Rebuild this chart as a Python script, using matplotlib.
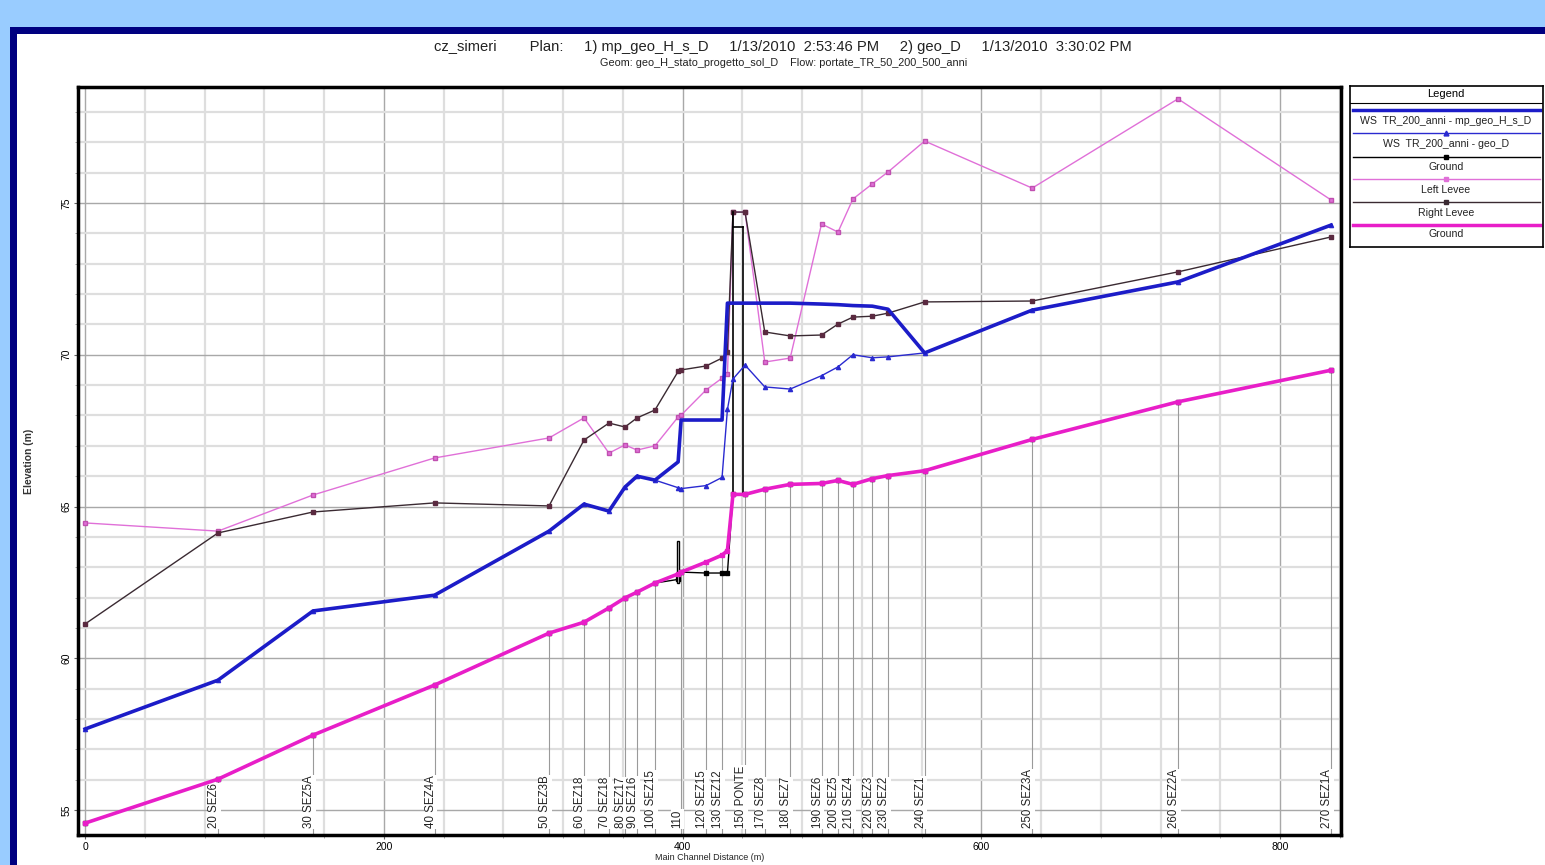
import matplotlib
matplotlib.use("Agg")
import matplotlib.pyplot as plt
from matplotlib.patches import Rectangle

plt.rcParams['font.family'] = ['Liberation Sans', 'DejaVu Sans']

# ---------------- data ----------------
stations = [0, 89, 152.6, 234, 310.6, 334, 350.7, 361.4, 369.5, 381.5, 397.0, 399.0,
            415.7, 426.4, 430.0, 433.7, 441.8, 455, 472, 493, 504, 514, 527, 537.5,
            562, 634, 731.6, 834]
station_labels = ["", "20 SEZ6", "30 SEZ5A", "40 SEZ4A", "50 SEZ3B", "60 SEZ18", "70 SEZ18",
                  "80 SEZ17", "90 SEZ16", "100 SEZ15", "", "110", "120 SEZ15", "130 SEZ12",
                  "", "", "150 PONTE", "170 SEZ8", "180 SEZ7", "190 SEZ6", "200 SEZ5",
                  "210 SEZ4", "220 SEZ3", "230 SEZ2", "240 SEZ1", "250 SEZ3A", "260 SEZ2A",
                  "270 SEZ1A"]
ground_main = [54.57, 56.02, 57.47, 59.12, 60.83, 61.19, 61.66, 61.99, 62.18, 62.48, 62.78, 62.84,
               63.17, 63.40, 63.55, 65.40, 65.40, 65.57, 65.73, 65.76, 65.86, 65.73, 65.92, 66.02,
               66.18, 67.21, 68.45, 69.49]
ground_alt = [54.57, 56.02, 57.47, 59.12, 60.83, 61.19, 61.66, 61.99, 62.18, 62.48, 62.60, 62.84,
              62.81, 62.81, 62.81, 65.40, 65.40, 65.57, 65.73, 65.76, 65.86, 65.73, 65.92, 66.02,
              66.18, 67.21, 68.45, 69.49]
ws_plan1 = [57.67, 59.28, 61.56, 62.08, 64.19, 65.08, 64.85, 65.64, 66.00, 65.87, 66.47, 67.85,
            67.85, 67.85, 71.70, 71.70, 71.70, 71.70, 71.70, 71.67, 71.65, 71.62, 71.60, 71.50,
            70.06, 71.47, 72.40, 74.27]
ws_plan2 = [57.67, 59.28, 61.56, 62.08, 64.19, 65.08, 64.85, 65.64, 66.00, 65.87, 65.62, 65.59,
            65.69, 65.96, 68.20, 69.20, 69.66, 68.94, 68.87, 69.31, 69.60, 70.00, 69.90, 69.93,
            70.06, 71.47, 72.40, 74.27]
left_levee = [64.46, 64.19, 65.38, 66.60, 67.26, 67.92, 66.76, 67.03, 66.86, 67.00, 67.95, 68.01,
              68.84, 69.23, 69.35, 74.70, 74.70, 69.76, 69.89, 74.31, 74.04, 75.13, 75.63, 76.02,
              77.04, 75.49, 78.43, 75.10]
right_levee = [61.13, 64.13, 64.82, 65.12, 65.02, 67.19, 67.75, 67.62, 67.92, 68.18, 69.45, 69.50,
               69.63, 69.89, 70.10, 74.70, 74.70, 70.75, 70.62, 70.65, 71.01, 71.24, 71.27, 71.37,
               71.74, 71.77, 72.73, 73.88]
# bridge (PONTE) outline and inline structure
bridge_x = [433.7, 440.5]
bridge_top = 74.70
bridge_low = 74.20
bridge_base = 65.40
weir_x = 397.0
weir_low, weir_high = 62.48, 63.86

x_ticks = [0, 200, 400, 600, 800]
y_ticks = [55, 60, 65, 70, 75]

title1 = "cz_simeri        Plan:     1) mp_geo_H_s_D     1/13/2010  2:53:46 PM     2) geo_D     1/13/2010  3:30:02 PM"
title2 = "Geom: geo_H_stato_progetto_sol_D    Flow: portate_TR_50_200_500_anni"
legend_labels = ["WS  TR_200_anni - mp_geo_H_s_D", "WS  TR_200_anni - geo_D", "Ground",
                 "Left Levee", "Right Levee", "Ground"]

# ---------------- colours ----------------
C_WS1 = '#1c1cc8'
C_WS2 = '#2a2ad0'
C_GRD2 = '#000000'
C_LL = '#e070d8'
C_RL = '#3a2a32'
C_GRD = '#e81ec8'

W, H = 1545, 865
fig = plt.figure(figsize=(W / 100, H / 100), dpi=100)
fig.patch.set_facecolor('#99ccff')
fig.patches.append(Rectangle((10 / W, 0), 1, (H - 27) / H, transform=fig.transFigure,
                             facecolor='#000080', edgecolor='none', zorder=-2))
fig.patches.append(Rectangle((17 / W, 0), 1, (H - 34) / H, transform=fig.transFigure,
                             facecolor='white', edgecolor='none', zorder=-1))

ax = fig.add_axes([78 / W, (H - 835) / H, (1341 - 78) / W, (835 - 87) / H])
ax.set_xlim(-4.7, 840.7)
ax.set_ylim(54.18, 78.82)

# grid
for gx in range(0, 841, 40):
    major = gx % 200 == 0
    ax.axvline(gx, color='#a8a8a8' if major else '#dedede', lw=1.0 if major else 1.6, zorder=0)
for gy in range(55, 79):
    major = gy % 5 == 0
    ax.axhline(gy, color='#a8a8a8' if major else '#dedede', lw=1.0 if major else 1.6, zorder=0)

# station lines and labels
for s, g, lab in zip(stations, ground_main, station_labels):
    if lab:
        ax.plot([s, s], [54.18, g], color='#9a9a9a', lw=0.8, zorder=1)
        ax.text(s + 1.5, 54.40, lab, rotation=90, ha='right', va='bottom', fontsize=8.3,
                color='#222222', zorder=2,
                bbox=dict(facecolor='white', edgecolor='none', pad=0.3))

# structures
ax.plot([bridge_x[0], bridge_x[0]], [bridge_base, bridge_top], color='black', lw=1.2, zorder=4)
ax.plot([bridge_x[1], bridge_x[1]], [bridge_base, bridge_low], color='black', lw=1.2, zorder=4)
ax.plot([bridge_x[0], bridge_x[1]], [bridge_low, bridge_low], color='black', lw=1.2, zorder=4)
ax.add_patch(Rectangle((weir_x - 0.9, weir_low), 1.8, weir_high - weir_low, facecolor='white',
                       edgecolor='black', lw=1.0, zorder=4))

# series
ax.plot(stations, ground_alt, color=C_GRD2, lw=1.0, marker='s', ms=3, zorder=3)
ax.plot(stations, left_levee, color=C_LL, lw=1.0, marker='s', ms=3, mfc=C_LL, mec='#c050b0', zorder=3)
ax.plot(stations, right_levee, color=C_RL, lw=1.0, marker='s', ms=3, mfc='#5a2a40', mec='#5a2a40', zorder=3)
ax.plot(stations, ws_plan2, color=C_WS2, lw=1.0, marker='^', ms=3, zorder=5)
ax.plot(stations, ws_plan1, color=C_WS1, lw=2.6, zorder=6)
ax.plot(stations, ground_main, color=C_GRD, lw=2.6, marker='s', ms=3, zorder=7)

for sp in ax.spines.values():
    sp.set_linewidth(2.5)
    sp.set_color('black')
ax.set_xticks(x_ticks)
ax.set_xticks(range(0, 841, 40), minor=True)
ax.set_yticks(y_ticks)
ax.set_yticks(range(55, 79), minor=True)
ax.tick_params(axis='both', which='major', labelsize=7.5, length=3, width=0.8, color='#666666')
ax.tick_params(axis='x', which='major', pad=2)
ax.tick_params(axis='y', which='major', pad=1.5)
ax.tick_params(axis='both', which='minor', length=2, width=0.6, color='#999999')
for t in ax.get_yticklabels():
    t.set_rotation(90)
    t.set_va('center')
ax.set_ylabel("Elevation (m)", fontsize=7.5, labelpad=20, fontweight='bold', color='#333333')

# x axis title (sits at the very bottom edge, as in the original window)
fig.text(710 / W, 1 - 858 / H, "Main Channel Distance (m)", ha='center', va='center',
         fontsize=6.5, color='#222222')

# titles
fig.text(783 / W, 1 - 47 / H, title1, ha='center', va='center', fontsize=10.6, color='#222222')
fig.text(784 / W, 1 - 63 / H, title2, ha='center', va='center', fontsize=7.8, color='#222222')

# legend box
lax = fig.add_axes([1350 / W, (H - 247) / H, (1543 - 1350) / W, (247 - 86) / H])
lax.set_xlim(1350, 1543)
lax.set_ylim(247, 86)
lax.set_xticks([])
lax.set_yticks([])
for sp in lax.spines.values():
    sp.set_linewidth(1.2)
lax.text(1446, 94, "Legend", ha='center', va='center', fontsize=8)
lax.plot([1350, 1543], [103, 103], color='black', lw=0.8)
rows = [(110, 121, dict(color=C_WS1, lw=2.5)),
        (133, 144, dict(color=C_WS2, lw=1.0, marker='^', ms=3.5, markevery=[1])),
        (157, 167, dict(color=C_GRD2, lw=1.0, marker='s', ms=3.5, markevery=[1])),
        (179, 190, dict(color=C_LL, lw=1.0, marker='s', ms=3.5, markevery=[1])),
        (202, 213, dict(color=C_RL, lw=1.0, marker='s', ms=3.5, markevery=[1])),
        (225, 234, dict(color=C_GRD, lw=2.5))]
for (ly, ty, kw), lab in zip(rows, legend_labels):
    lax.plot([1353, 1446, 1540], [ly, ly, ly], **kw)
    lax.text(1446, ty, lab, ha='center', va='center', fontsize=7.6, color='#222222')

fig.savefig("out.png", dpi=100, facecolor=fig.get_facecolor())
